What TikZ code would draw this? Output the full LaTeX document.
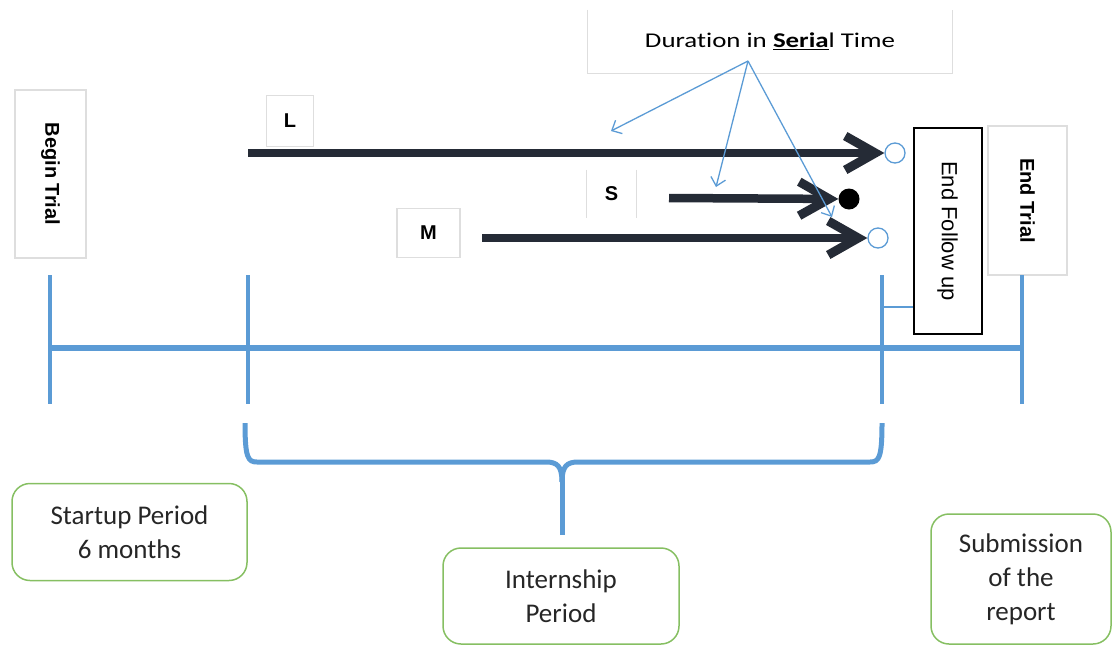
\documentclass[tikz,border=0pt]{standalone}
\usepackage{fontspec}
\setmainfont{Carlito}
\newfontfamily\labelfont{Liberation Sans}
\newfontfamily\durfont[FakeStretch=1.28, Ligatures=NoCommon]{Carlito}
\usetikzlibrary{arrows.meta,positioning}
\definecolor{Line_Blue}{HTML}{5B9BD5}
\definecolor{Arrow_Navy}{HTML}{252B36}
\definecolor{Box_Green}{HTML}{86BF62}
\definecolor{Box_Gray}{HTML}{DEDEDE}

\begin{document}
\begin{tikzpicture}[x=1pt, y=-1pt,
    faintbox/.style={draw=Box_Gray, line width=1.2pt, inner sep=0pt},
    sidebox/.style={faintbox, rotate=-90, font=\labelfont\bfseries\fontsize{20}{24}\selectfont},
    letterbox/.style={faintbox, font=\labelfont\bfseries\fontsize{20}{24}\selectfont},
    greenbox/.style={draw=Box_Green, line width=1.5pt, rounded corners=18pt, align=center,
        inner sep=0pt, text=black!85, font=\fontsize{27}{34}\selectfont},
    lane/.style={Arrow_Navy, line width=8.5pt,
        -{Straight Barb[length=30pt, width=34pt, line width=9pt]}},
    pointer/.style={Line_Blue, line width=1.3pt, -{Straight Barb[length=8pt, width=15pt]}},
    ring/.style={circle, draw=Line_Blue, fill=white, line width=1.3pt, minimum size=20pt, inner sep=0pt}]
    \useasboundingbox (0,0) rectangle (1113,646);

    % Title box, open at the top
    \node[inner sep=0pt, minimum width=364pt, minimum height=63pt,
        font=\durfont\fontsize{21}{25}\selectfont] (dur) at (770,41.5)
        {Duration in \underline{\textbf{Seria}}l Time};
    \draw[faintbox] (dur.north west) -- (dur.south west) -- (dur.south east) -- (dur.north east);
    \coordinate (durpt) at (748,61);

    % Begin / end markers
    \node[sidebox, minimum width=168pt, minimum height=71pt] (begin) at (50.5,174) {Begin Trial};
    \node[sidebox, minimum width=149pt, minimum height=79pt] (endtrial) at (1027.5,200.5) {End Trial};
    \node[draw=black, line width=2pt, rotate=-90, inner sep=0pt, minimum width=206pt, minimum height=68pt,
        font=\labelfont\fontsize{22}{26}\selectfont] (endfollow) at (947.5,231) {End Follow up};

    % Letter boxes
    \node[letterbox, minimum width=47pt, minimum height=51pt] (boxL) at (290,121) {L};
    \node[letterbox, minimum width=63pt, minimum height=49pt] (boxM) at (428.5,233) {M};
    \node[inner sep=0pt, minimum width=49pt, minimum height=48pt,
        font=\labelfont\bfseries\fontsize{20}{24}\selectfont] (boxS) at (611.5,194) {S};
    \draw[faintbox] (boxS.north west) -- (boxS.south west) (boxS.north east) -- (boxS.south east);

    % Durations
    \node[ring] (endL) at (895,153) {};
    \node[circle, fill=black, minimum size=21pt, inner sep=0pt] (endS) at (849,199) {};
    \node[ring] (endM) at (878,238) {};
    \coordinate (startL) at (248,153);
    \coordinate (startS) at (669,198);
    \coordinate (startM) at (482,238);
    \draw[lane] (startL) -- (endL);
    \draw[lane] (startS) -- (endS);
    \draw[lane] (startM) -- (endM);

    % Pointers from the title
    \coordinate (ptL) at (611,131);
    \coordinate (ptS) at (716,187);
    \coordinate (ptM) at (832,217);
    \foreach \p in {ptL,ptS,ptM}
        \draw[pointer] (durpt) -- (\p);

    % Timeline
    \draw[Line_Blue, line width=6pt] (50,348) -- (1022,348);
    \foreach \x/\n in {50/t1, 248/t2, 882/t3, 1022/t4} {
        \draw[Line_Blue, line width=4.5pt] (\x,275) -- (\x,404);
        \coordinate (\n) at (\x,307);
    }
    \draw[Line_Blue, line width=1.5pt] (t3) -- (t3 -| endfollow.south);

    % Brace over the internship
    \draw[Line_Blue, line width=5pt, line join=round]
        (245,423) .. controls (245,458) and (248,462) .. (257,462) -- (546,462)
        .. controls (557,462) and (562,466) .. (562,482);
    \draw[Line_Blue, line width=5pt, line join=round]
        (882,423) .. controls (882,458) and (879,462) .. (870,462) -- (578,462)
        .. controls (567,462) and (562,466) .. (562,482);
    \draw[Line_Blue, line width=5pt] (562,470) -- (562,535);

    % Periods
    \node[greenbox, minimum width=235pt, minimum height=97pt] (startup) at (129.5,532)
        {Startup Period\\6 months};
    \node[greenbox, minimum width=236pt, minimum height=96pt] (internship) at (561,596)
        {Internship\\Period};
    \node[greenbox, minimum width=180pt, minimum height=130pt] (submission) at (1021,579)
        {Submission\\of the\\report};
\end{tikzpicture}
\end{document}
